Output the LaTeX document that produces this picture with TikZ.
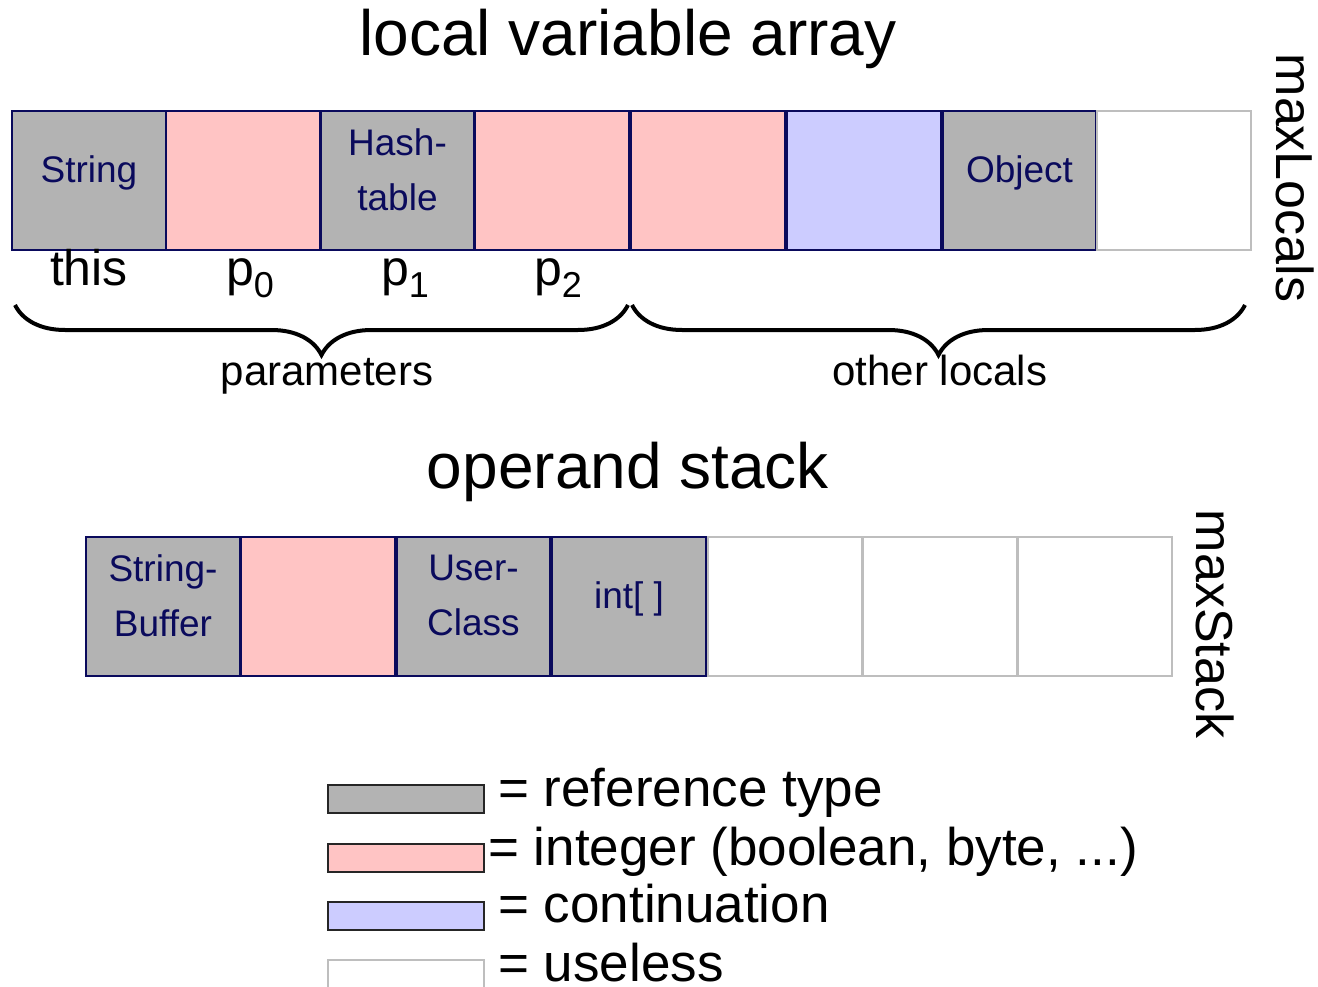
\documentclass[tikz,border=0pt]{standalone}
\usepackage{fontspec}
\setmainfont{Liberation Sans}
\usetikzlibrary{decorations.pathreplacing}
\definecolor{refgray}{HTML}{B3B3B3}
\definecolor{intpink}{HTML}{FFC4C4}
\definecolor{contblue}{HTML}{CCCCFF}
\definecolor{navy}{HTML}{0A0A5C}
\definecolor{uselessgray}{HTML}{BEBEBE}
\newcommand{\fs}[2]{\fontsize{#1}{#2}\selectfont}
\begin{document}
\begin{tikzpicture}[x=1pt,y=-1pt,
  cell/.style={draw=navy, line width=2.5pt, minimum width=154pt, minimum height=139pt, inner sep=0pt,
    font=\fs{37}{55}, text=navy, align=center, text depth=22pt},
  refc/.style={cell, fill=refgray},
  intc/.style={cell, fill=intpink},
  contc/.style={cell, fill=contblue},
  uselessc/.style={cell, draw=uselessgray, fill=white, line width=2pt},
  title/.style={font=\fs{64}{70}},
  plabel/.style={font=\fs{50}{55}, anchor=base},
  bracetext/.style={font=\fs{42}{46}, anchor=base},
  maxtext/.style={font=\fs{52}{56}, rotate=-90},
  bracestyle/.style={decorate, decoration={brace, amplitude=50pt}, line width=4pt},
  legbox/.style={draw=black!85, line width=2pt, minimum width=156pt, minimum height=28pt, inner sep=0pt},
  legtext/.style={font=\fs{53}{56}, anchor=base west, inner sep=0pt}]
\useasboundingbox (0,0) rectangle (1318,987);

% titles
\node[title] (t1) at (628,39) {local variable array};
\node[title] (t2) at (628,472) {operand stack};

% local variable array
\node[refc] (l0) at (89,180.5) {String};
\node[intc] (l1) at (243,180.5) {};
\node[refc] (l2) at (397.5,180.5) {Hash-\\table};
\node[intc] (l3) at (552,180.5) {};
\node[intc] (l4) at (708,180.5) {};
\node[contc] (l5) at (864,180.5) {};
\node[refc] (l6) at (1019.5,180.5) {Object};
\node[uselessc] (l7) at (1173.5,180.5) {};

% labels under
\node[plabel] (lthis) at (89,286) {this};
\node[plabel] (lp0) at (250,286) {p\raisebox{-12pt}{\fs{36}{36}0}};
\node[plabel] (lp1) at (405,286) {p\raisebox{-12pt}{\fs{36}{36}1}};
\node[plabel] (lp2) at (558,286) {p\raisebox{-12pt}{\fs{36}{36}2}};

% braces
\coordinate (b1l) at (15,305);
\coordinate (b1r) at (628,305);
\coordinate (b2l) at (632,305);
\coordinate (b2r) at (1245,305);
\draw[bracestyle] (b1r) -- (b1l);
\draw[bracestyle] (b2r) -- (b2l);
\node[bracetext] (params) at (327,385) {parameters};
\node[bracetext] (others) at (940,385) {other locals};

\node[maxtext] (maxl) at (1295,178) {maxLocals};

% operand stack
\node[refc] (s0) at (163,606.5) {String-\\Buffer};
\node[intc] (s1) at (318,606.5) {};
\node[refc] (s2) at (473.5,606.5) {User-\\Class};
\node[refc] (s3) at (629,606.5) {int[ ]};
\node[uselessc] (s4) at (784.5,606.5) {};
\node[uselessc] (s5) at (940,606.5) {};
\node[uselessc] (s6) at (1095,606.5) {};

\node[maxtext] (maxs) at (1215,624) {maxStack};

% legend
\node[legbox, fill=refgray] (k0) at (406,799) {};
\node[legbox, fill=intpink] (k1) at (406,857.5) {};
\node[legbox, fill=contblue] (k2) at (406,916) {};
\node[legbox, draw=uselessgray, fill=white] (k3) at (406,974) {};
\node[legtext] (k0t) at (498,806) {= reference type};
\node[legtext] (k1t) at (488,865) {= integer (boolean, byte, ...)};
\node[legtext] (k2t) at (498,922) {= continuation};
\node[legtext] (k3t) at (498,981) {= useless};
\end{tikzpicture}
\end{document}
